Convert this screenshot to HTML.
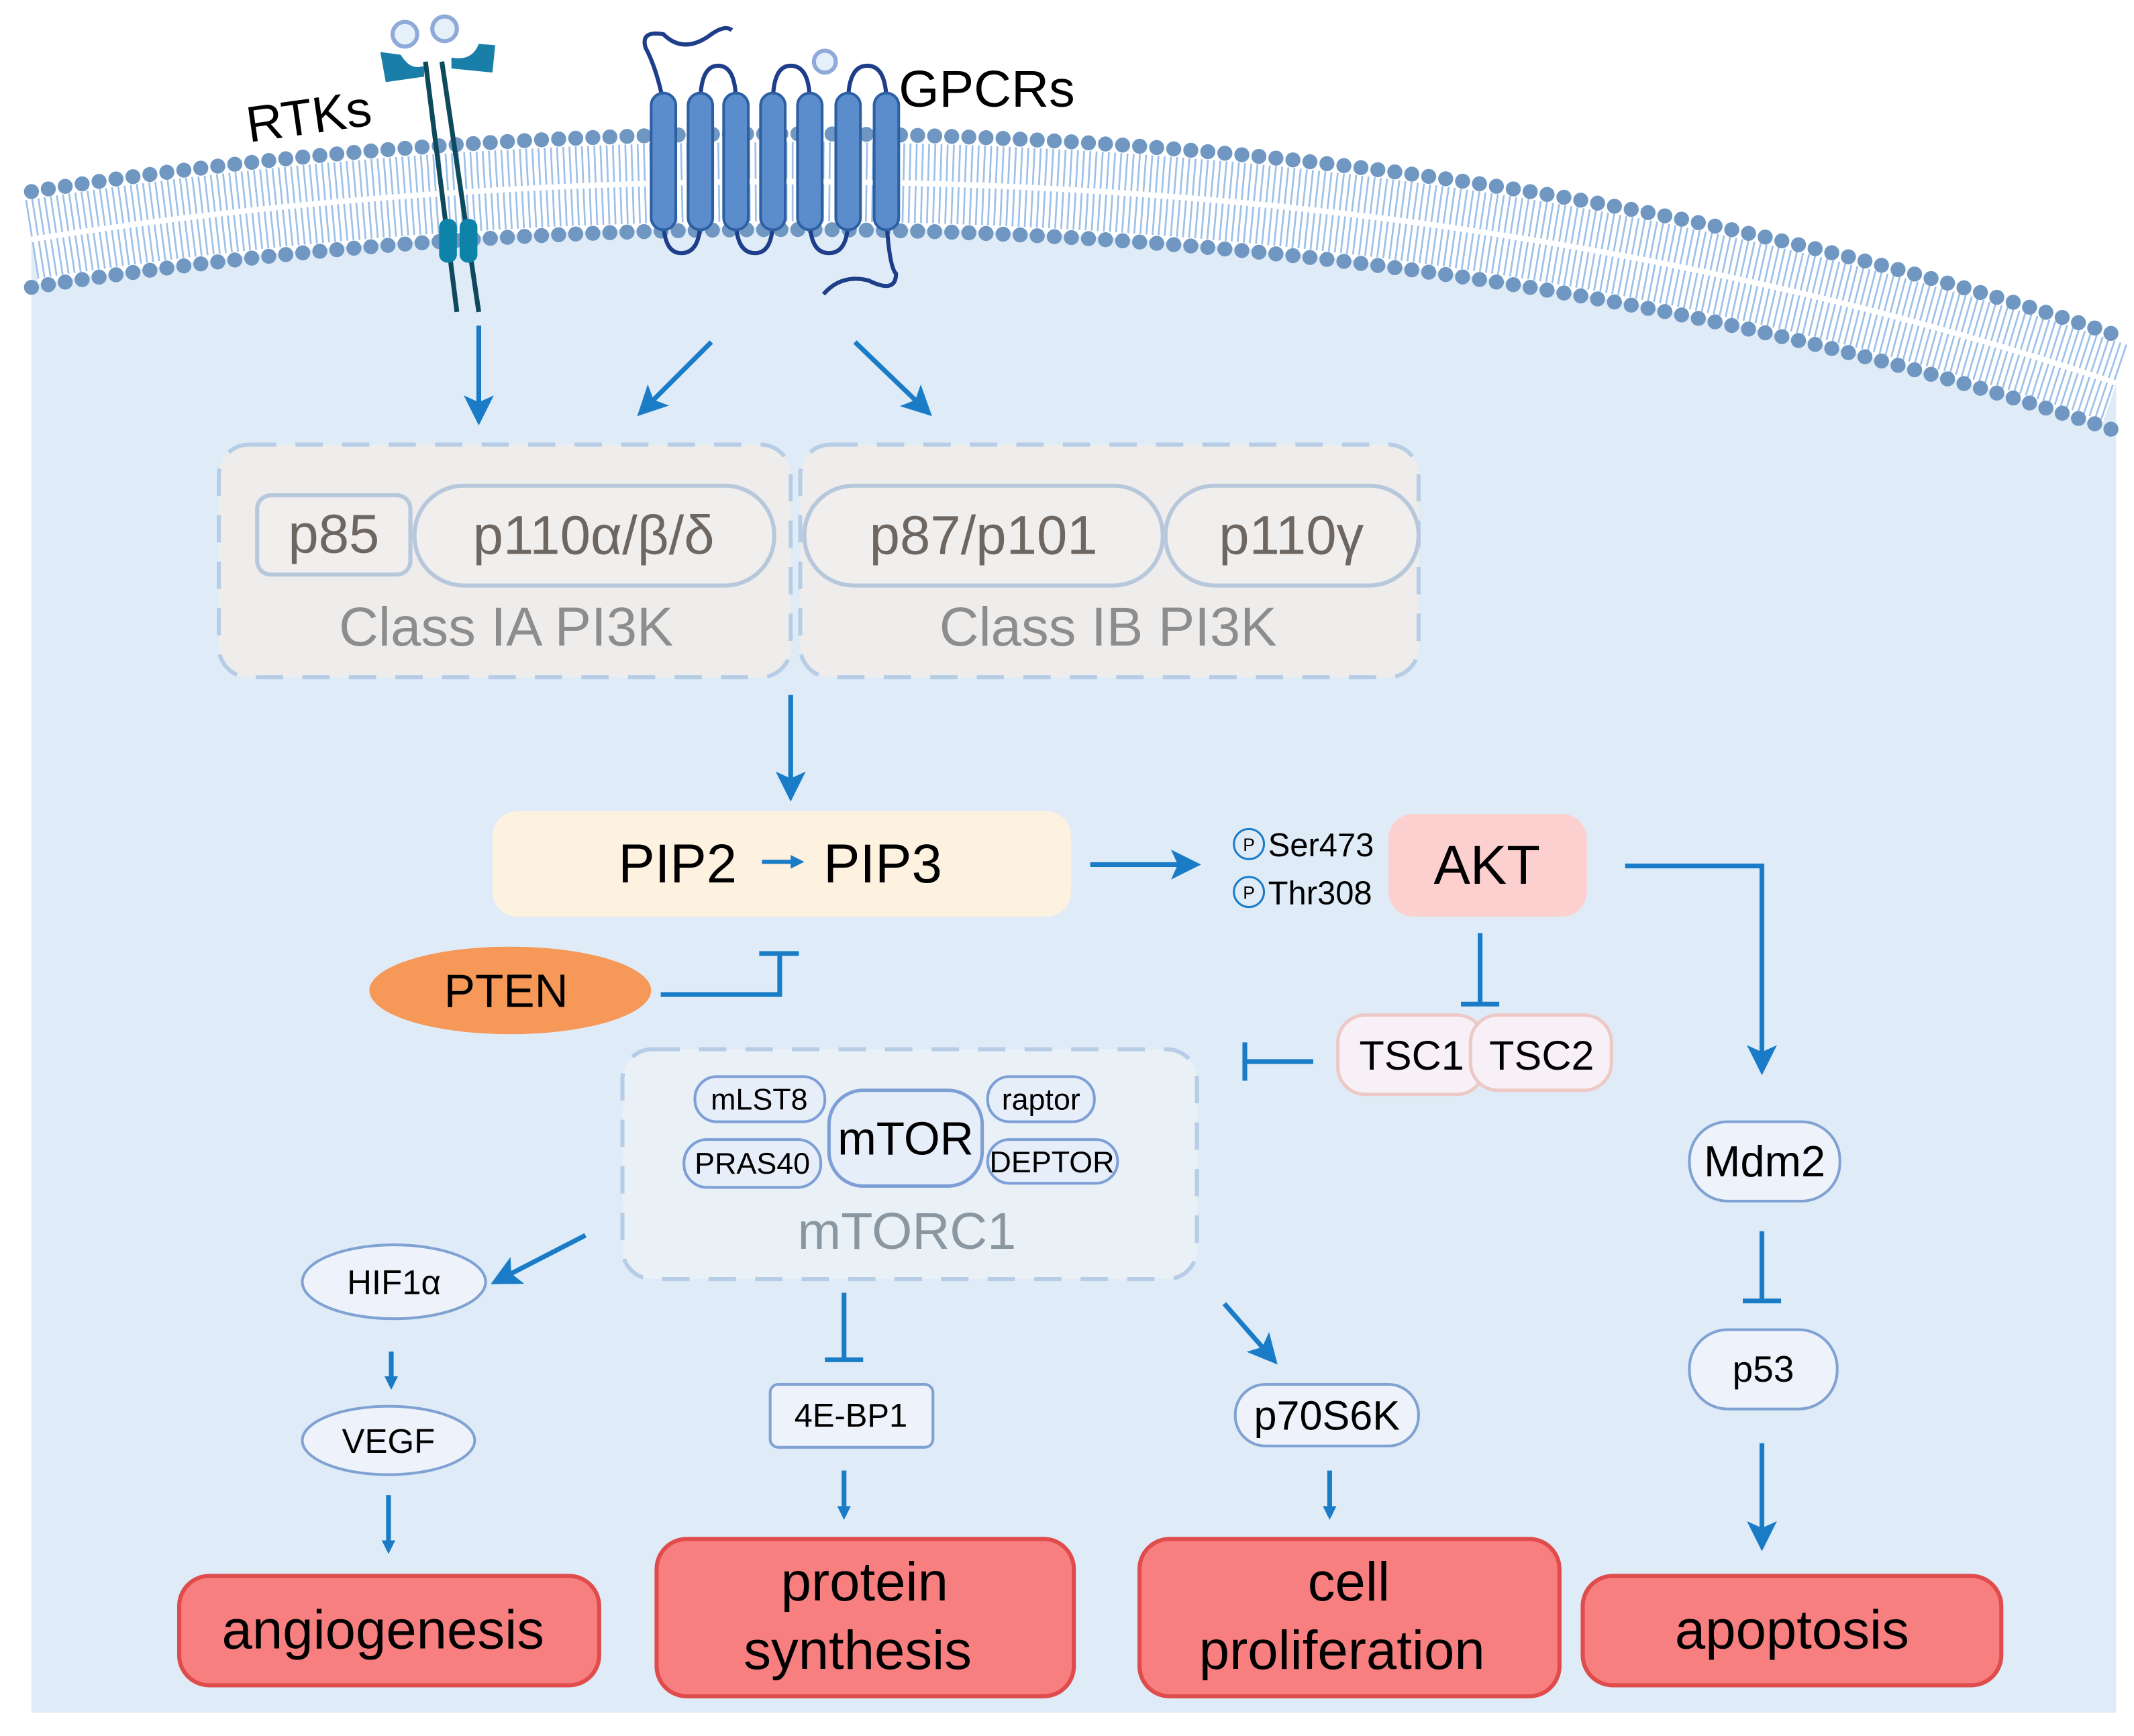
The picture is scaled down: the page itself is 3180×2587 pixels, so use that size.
<!DOCTYPE html>
<html><head><meta charset="utf-8"><style>
html,body{margin:0;padding:0;background:#fff}
svg{display:block}
text{font-family:"Liberation Sans",sans-serif}
</style></head><body>
<svg width="3180" height="2587" viewBox="0 0 1560 1269" xmlns="http://www.w3.org/2000/svg">
<defs>
<marker id="ah" markerWidth="10" markerHeight="10" refX="7" refY="5" orient="auto" markerUnits="userSpaceOnUse" viewBox="0 0 10 10">
<path d="M0,0 L10,5 L0,10 z" fill="#1a7cc7"/></marker>
<marker id="ahb" markerWidth="22" markerHeight="22" refX="16" refY="11" orient="auto" markerUnits="userSpaceOnUse" viewBox="0 0 22 22">
<path d="M0,0 L22,11 L0,22 L5,11 z" fill="#1a7cc7"/></marker>
</defs>
<rect width="1560" height="1269" fill="#fff"/>
<!-- cell -->
<path d="M23,175 C400,115 1000,95 1547,280 L1547,1252 L23,1252 Z" fill="#dfecf8"/>
<!-- membrane tails -->
<path d="M23,175 C400,115 1000,95 1547,280" fill="none" stroke="#fff" stroke-width="66"/>
<path d="M23,175 C400,115 1000,95 1547,280" fill="none" stroke="#9cc0ea" stroke-width="58" stroke-dasharray="1.3 3.2"/>
<path d="M23,175 C400,115 1000,95 1547,280" fill="none" stroke="#fff" stroke-width="4"/>
<!-- heads -->
<path d="M23,140 C400,80 1000,60 1547,245" fill="none" stroke="#6f97c2" stroke-width="11" stroke-linecap="round" stroke-dasharray="0 12.5"/>
<path d="M23,210 C400,150 1000,130 1547,315" fill="none" stroke="#6f97c2" stroke-width="11" stroke-linecap="round" stroke-dasharray="0 12.5"/>

<!-- RTKs -->
<line x1="311" y1="45" x2="334" y2="228" stroke="#0f4a5c" stroke-width="3.5"/>
<line x1="323" y1="45" x2="350" y2="228" stroke="#0f4a5c" stroke-width="3.5"/>
<path d="M278,38 L282,60 L310,56 L310,48 Q300,52 293,40 Z" fill="#1a7fa8"/>
<path d="M362,33 L360,53 L330,50 L330,42 Q345,45 350,32 Z" fill="#1a7fa8"/>
<circle cx="296" cy="25" r="9" fill="#e6f0fa" stroke="#8fa9d8" stroke-width="3"/>
<circle cx="325" cy="21" r="9" fill="#e6f0fa" stroke="#8fa9d8" stroke-width="3"/>
<rect x="321" y="160" width="13" height="32" rx="6" fill="#0e83aa"/>
<rect x="336" y="160" width="13" height="32" rx="6" fill="#0e83aa"/>
<text x="182" y="104" font-size="37" transform="rotate(-8 182 104)">RTKs</text>

<!-- GPCR -->
<g fill="none" stroke="#1f3e8a" stroke-width="3">
<path d="M485,75 Q480,50 472,35 Q468,22 485,25 Q500,40 520,25 Q530,18 535,22"/>
<path d="M512,75 Q512,48 525,48 Q538,48 538,75"/>
<path d="M565,75 Q565,48 578,48 Q592,48 592,75"/>
<path d="M620,75 Q620,48 634,48 Q648,48 648,75"/>
<path d="M485,160 Q485,185 498,185 Q512,185 512,160"/>
<path d="M538,160 Q538,185 552,185 Q565,185 565,160"/>
<path d="M592,160 Q592,185 606,185 Q620,185 620,160"/>
<path d="M648,160 Q650,195 655,200 Q655,215 635,205 Q615,200 602,215"/>
</g>
<g fill="#5b8ccc" stroke="#2d5fa3" stroke-width="2">
<rect x="476" y="68" width="18" height="100" rx="9"/>
<rect x="503" y="68" width="18" height="100" rx="9"/>
<rect x="529" y="68" width="18" height="100" rx="9"/>
<rect x="556" y="68" width="18" height="100" rx="9"/>
<rect x="583" y="68" width="18" height="100" rx="9"/>
<rect x="611" y="68" width="18" height="100" rx="9"/>
<rect x="639" y="68" width="18" height="100" rx="9"/>
</g>
<circle cx="603" cy="45" r="8" fill="#e6f0fa" stroke="#8fa9d8" stroke-width="3"/>
<text x="657" y="78" font-size="38">GPCRs</text>

<!-- arrows top -->
<g stroke="#1a7cc7" stroke-width="3.5" fill="none">
<line x1="350" y1="238" x2="350" y2="305" marker-end="url(#ahb)"/>
<line x1="520" y1="250" x2="470" y2="300" marker-end="url(#ahb)"/>
<line x1="625" y1="250" x2="677" y2="300" marker-end="url(#ahb)"/>
<line x1="578" y1="508" x2="578" y2="580" marker-end="url(#ahb)"/>
<line x1="797" y1="632" x2="872" y2="632" marker-end="url(#ahb)"/>
<polyline points="1188,633 1288,633 1288,780" marker-end="url(#ahb)"/>
<line x1="1082" y1="682" x2="1082" y2="733"/><line x1="1068" y1="734" x2="1096" y2="734"/>
<line x1="960" y1="776" x2="910" y2="776"/><line x1="910" y1="762" x2="910" y2="790"/>
<polyline points="483,727 570,727 570,698"/><line x1="555" y1="697" x2="584" y2="697"/>
<line x1="428" y1="903" x2="364" y2="936" marker-end="url(#ahb)"/>
<line x1="286" y1="988" x2="286" y2="1013" marker-end="url(#ah)"/>
<line x1="284" y1="1093" x2="284" y2="1133" marker-end="url(#ah)"/>
<line x1="617" y1="945" x2="617" y2="993"/><line x1="603" y1="994" x2="631" y2="994"/>
<line x1="617" y1="1075" x2="617" y2="1108" marker-end="url(#ah)"/>
<line x1="895" y1="953" x2="930" y2="993" marker-end="url(#ahb)"/>
<line x1="972" y1="1075" x2="972" y2="1108" marker-end="url(#ah)"/>
<line x1="1288" y1="900" x2="1288" y2="950"/><line x1="1274" y1="951" x2="1302" y2="951"/>
<line x1="1288" y1="1055" x2="1288" y2="1128" marker-end="url(#ahb)"/>
</g>

<!-- PI3K -->
<rect x="160" y="325" width="418" height="170" rx="22" fill="#efedeb" stroke="#b7cde6" stroke-width="3" stroke-dasharray="20 14"/>
<rect x="585" y="325" width="452" height="170" rx="22" fill="#efedeb" stroke="#b7cde6" stroke-width="3" stroke-dasharray="20 14"/>
<g fill="#f1efed" stroke="#b8c8dc" stroke-width="3">
<rect x="188" y="362" width="112" height="58" rx="10"/>
<rect x="303" y="355" width="263" height="73" rx="36"/>
<rect x="588" y="355" width="262" height="73" rx="36"/>
<rect x="852" y="355" width="185" height="73" rx="36"/>
</g>
<g font-size="40" fill="#6d6661" text-anchor="middle">
<text x="244" y="404">p85</text>
<text x="434" y="405">p110α/β/δ</text>
<text x="719" y="405">p87/p101</text>
<text x="944" y="405">p110γ</text>
</g>
<g font-size="40" fill="#8d8d8d" text-anchor="middle">
<text x="370" y="472">Class IA PI3K</text>
<text x="810" y="472">Class IB PI3K</text>
</g>

<!-- PIP -->
<rect x="360" y="593" width="423" height="77" rx="18" fill="#fdf1e0"/>
<text x="452" y="645" font-size="40">PIP2</text>
<line x1="557" y1="630" x2="585" y2="630" stroke="#1a7cc7" stroke-width="3" marker-end="url(#ah)"/>
<text x="602" y="645" font-size="40">PIP3</text>

<!-- AKT -->
<circle cx="913" cy="617" r="11" fill="none" stroke="#1a7cc7" stroke-width="1.5"/>
<circle cx="913" cy="652" r="11" fill="none" stroke="#1a7cc7" stroke-width="1.5"/>
<text x="913" y="622" font-size="13" text-anchor="middle">P</text>
<text x="913" y="657" font-size="13" text-anchor="middle">P</text>
<text x="927" y="626" font-size="24">Ser473</text>
<text x="927" y="661" font-size="24">Thr308</text>
<rect x="1015" y="595" width="145" height="75" rx="18" fill="#fdd0d0"/>
<text x="1087" y="646" font-size="40" text-anchor="middle">AKT</text>

<!-- TSC -->
<rect x="978" y="742" width="107" height="58" rx="20" fill="#f7f0f6" stroke="#edc9c6" stroke-width="2.5"/>
<rect x="1075" y="742" width="103" height="55" rx="20" fill="#f7f0f6" stroke="#edc9c6" stroke-width="2.5"/>
<text x="1032" y="782" font-size="30" text-anchor="middle">TSC1</text>
<text x="1127" y="782" font-size="30" text-anchor="middle">TSC2</text>

<!-- PTEN -->
<ellipse cx="373" cy="724" rx="103" ry="32" fill="#f59858"/>
<text x="370" y="736" font-size="34" text-anchor="middle">PTEN</text>

<!-- mTORC1 -->
<rect x="455" y="767" width="420" height="168" rx="22" fill="#e9f1f7" stroke="#b7cde6" stroke-width="3" stroke-dasharray="20 14"/>
<g fill="#e6eef9" stroke="#7d9fd5" stroke-width="2">
<rect x="508" y="787" width="95" height="33" rx="16"/>
<rect x="722" y="787" width="78" height="33" rx="16"/>
<rect x="500" y="833" width="100" height="35" rx="17"/>
<rect x="722" y="833" width="95" height="32" rx="16"/>
<rect x="606" y="797" width="112" height="70" rx="25" stroke-width="2.5"/>
</g>
<g font-size="22" text-anchor="middle">
<text x="555" y="811">mLST8</text>
<text x="761" y="811">raptor</text>
<text x="550" y="858">PRAS40</text>
<text x="769" y="857">DEPTOR</text>
</g>
<text x="662" y="844" font-size="34" text-anchor="middle">mTOR</text>
<text x="663" y="913" font-size="38" fill="#8a96a0" text-anchor="middle">mTORC1</text>

<!-- left branch -->
<g fill="#eef3fb" stroke="#7fa2d2" stroke-width="2">
<ellipse cx="288" cy="937" rx="67" ry="27"/>
<ellipse cx="284" cy="1053" rx="63" ry="25"/>
<rect x="563" y="1012" width="119" height="46" rx="6"/>
<rect x="903" y="1012" width="134" height="45" rx="22"/>
<rect x="1235" y="820" width="110" height="58" rx="28"/>
<rect x="1235" y="972" width="108" height="58" rx="28"/>
</g>
<g text-anchor="middle">
<text x="288" y="946" font-size="25">HIF1α</text>
<text x="284" y="1062" font-size="25">VEGF</text>
<text x="622" y="1043" font-size="24">4E-BP1</text>
<text x="970" y="1045" font-size="30">p70S6K</text>
<text x="1290" y="860" font-size="32">Mdm2</text>
<text x="1289" y="1010" font-size="27">p53</text>
</g>

<!-- outcome boxes -->
<g fill="#f77f7f" stroke="#e04b4b" stroke-width="3">
<rect x="131" y="1152" width="307" height="80" rx="22"/>
<rect x="480" y="1125" width="305" height="115" rx="22"/>
<rect x="833" y="1125" width="307" height="115" rx="22"/>
<rect x="1157" y="1152" width="306" height="80" rx="22"/>
</g>
<g font-size="40" text-anchor="middle">
<text x="280" y="1205">angiogenesis</text>
<text x="632" y="1170">protein</text>
<text x="627" y="1220">synthesis</text>
<text x="986" y="1170">cell</text>
<text x="981" y="1220">proliferation</text>
<text x="1310" y="1205">apoptosis</text>
</g>
</svg>
</body></html>
